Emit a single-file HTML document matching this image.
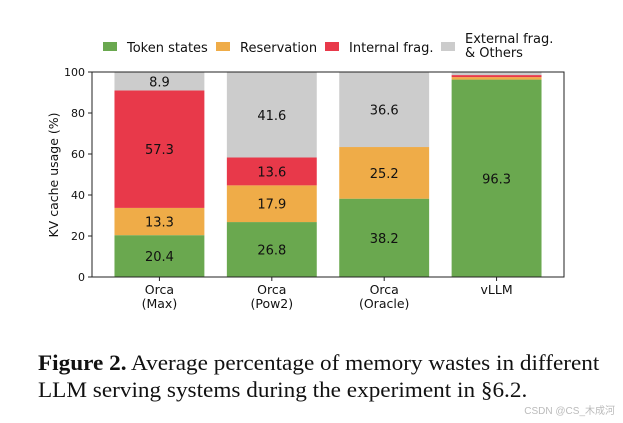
<!DOCTYPE html>
<html><head><meta charset="utf-8"><style>
body{margin:0;background:#fff;width:623px;height:423px;overflow:hidden}
svg text{font-family:"DejaVu Sans",sans-serif;fill:#111}
.cap{position:absolute;left:38px;top:349px;font-family:"Liberation Serif",serif;font-size:22px;line-height:27px;color:#111;white-space:nowrap;transform:scaleX(1.055);transform-origin:0 0}
.wm{position:absolute;right:8px;top:402px;font-family:"Liberation Sans","Noto Sans CJK SC",sans-serif;font-size:10px;color:#bbb}
</style></head><body>
<svg id="chart" width="623" height="340" style="position:absolute;left:0;top:0">
 <g>
  <rect x="103" y="42" width="14" height="9" fill="#6aa84f"/>
  <text x="127" y="52" font-size="13">Token states</text>
  <rect x="216" y="42" width="14" height="9" fill="#efac48"/>
  <text x="240" y="52" font-size="13">Reservation</text>
  <rect x="325" y="42" width="14" height="9" fill="#e8394a"/>
  <text x="349" y="52" font-size="13">Internal frag.</text>
  <rect x="441" y="42" width="14" height="9" fill="#cccccc"/>
  <text x="465" y="43" font-size="13">External frag.</text>
  <text x="465" y="57" font-size="13">&amp; Others</text>
 </g>
 <g id="plot"></g>
 <text transform="translate(58,175) rotate(-90)" text-anchor="middle" font-size="12.5">KV cache usage (%)</text>
</svg>
<div class="cap"><b>Figure 2.</b> Average percentage of memory wastes in different<br>LLM serving systems during the experiment in §6.2.</div>
<div class="wm">CSDN @CS_木成河</div>
<script>
const categories=[["Orca","(Max)"],["Orca","(Pow2)"],["Orca","(Oracle)"],["vLLM"]];
const tokenStates=[20.4,26.8,38.2,96.3];
const reservation=[13.3,17.9,25.2,1.2];
const internalFrag=[57.3,13.6,0,1.0];
const externalFrag=[8.9,41.6,36.6,1.5];
const showLabel=[true,true,true,false];
const yTicks=[0,20,40,60,80,100];
const NS="http://www.w3.org/2000/svg";
const L=92,R=564,T=72,B=277;
const step=(R-L)/4.2;
const y=v=>B-(B-T)*v/100;
const xc=i=>L+step*(i+0.6);
const bw=step*0.8;
const g=document.getElementById('plot');
function mk(t,a){const e=document.createElementNS(NS,t);for(const k in a)e.setAttribute(k,a[k]);g.appendChild(e);return e;}
const series=[[tokenStates,"#6aa84f","token"],[reservation,"#efac48","reservation"],[internalFrag,"#e8394a","internal"],[externalFrag,"#cccccc","external"]];
categories.forEach((c,i)=>{
 let base=0;
 series.forEach(([arr,col,nm])=>{
  const v=arr[i];
  const r=mk('rect',{x:xc(i)-bw/2,y:y(base+v),width:bw,height:y(base)-y(base+v),fill:col});
  
  
  if(v>0&&(showLabel[i]||nm==="token")){
   const t=mk('text',{x:xc(i),y:y(base+v/2)+5,'text-anchor':'middle','font-size':'13'});
   t.textContent=v.toFixed(1);
   
   
  }
  base+=v;
 });
 c.forEach((s,j)=>{
  const t=mk('text',{x:xc(i),y:B+17+j*14,'text-anchor':'middle','font-size':'12.5'});
  t.textContent=s;
  
  
 });
 const tk=mk('line',{x1:xc(i),x2:xc(i),y1:B,y2:B+4,stroke:'#222'});
 
 
});
const fr=mk('rect',{x:L,y:T,width:R-L,height:B-T,fill:'none',stroke:'#222','stroke-width':1});


yTicks.forEach(v=>{
 const l=mk('line',{x1:L-4,x2:L,y1:y(v),y2:y(v),stroke:'#222'});
 
 
 const t=mk('text',{x:L-7,y:y(v)+4,'text-anchor':'end','font-size':'11'});
 t.textContent=v;
 
 
});
</script>
</body></html>
